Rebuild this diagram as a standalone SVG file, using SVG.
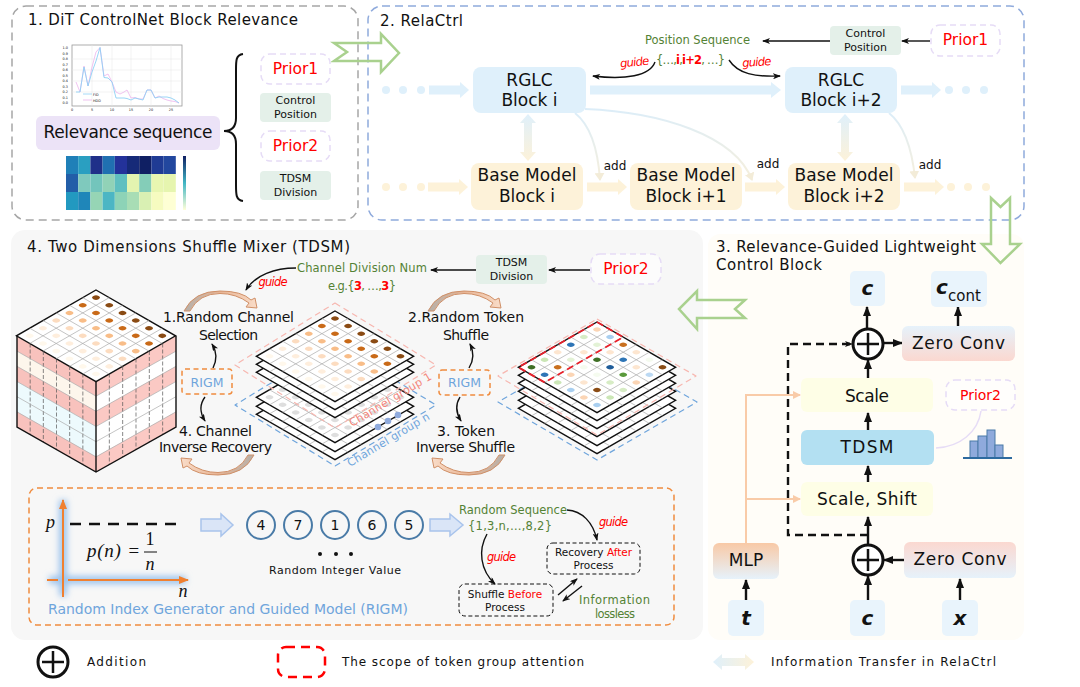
<svg xmlns="http://www.w3.org/2000/svg" width="1080" height="687" viewBox="0 0 1080 687">
<style>
text{font-family:"DejaVu Sans","Liberation Sans",sans-serif;fill:#111}
.h{font-size:15px}
.b{font-size:17px;text-anchor:middle}
.s{font-size:11px;text-anchor:middle}
.m{font-size:12px;text-anchor:middle}
.p{font-size:15.5px;fill:#f00;text-anchor:middle}
.g{font-size:11.5px;fill:#548235;text-anchor:middle}
.r{fill:#f00}
.gd{font-size:11.5px;fill:#f00;font-style:italic;text-anchor:middle}
.op{font-size:14px;text-anchor:middle}
.cv{font-weight:bold;font-style:italic;font-size:20px;text-anchor:middle}
.prior{fill:#fff;fill-opacity:.6;stroke:#e6dcf6;stroke-width:1.5;stroke-dasharray:6 4}
.tag{fill:#e4f0e9}
.blue{fill:#dff0fb}
.tan{fill:#fdf2d9}
.inp{fill:#e9f4fc}
.ln{fill:none;stroke:#111;stroke-width:1.4}
.thick{fill:none;stroke:#111;stroke-width:2.4}
.hollow{fill:none;stroke:#a9d18e;stroke-width:2.5}
.hb{fill:#dae5f7;stroke:#a9c4ec;stroke-width:1.5}
.rigm{fill:none;stroke:#f08c3f;stroke-width:1.5;stroke-dasharray:5 3.5}
.pb{fill:none;stroke:#111;stroke-width:1;stroke-dasharray:4 2.5}
.num{fill:none;stroke:#4a7ba7;stroke-width:2}
.grid{stroke:#aaa;stroke-width:.7;fill:none;vector-effect:non-scaling-stroke}
.out{stroke:#111;stroke-width:1.4;fill:#fff;vector-effect:non-scaling-stroke}
.peach{fill:none;stroke:#f9cba8;stroke-width:2}
.flow{fill:none;stroke-width:2;stroke:url(#fade)}
</style>
<defs>
<linearGradient id="vg" x1="0" y1="0" x2="0" y2="1"><stop offset="0" stop-color="#dff0fb"/><stop offset="1" stop-color="#fdf2d9"/></linearGradient>
<linearGradient id="hg" x1="0" y1="0" x2="1" y2="0"><stop offset="0" stop-color="#dff0fb"/><stop offset="1" stop-color="#fdf2d9"/></linearGradient>
<linearGradient id="fade" x1="0" y1="0" x2="0" y2="1"><stop offset="0" stop-color="#dcedf8"/><stop offset="1" stop-color="#f6efdc"/></linearGradient>
<linearGradient id="bluePink" x1="0" y1="0" x2="0" y2="1"><stop offset="0" stop-color="#e6f2fb"/><stop offset="1" stop-color="#fbd8d0"/></linearGradient>
<linearGradient id="pinkBlue" x1="0" y1="0" x2="0" y2="1"><stop offset="0" stop-color="#fbd8d0"/><stop offset="1" stop-color="#e6f2fb"/></linearGradient>
<linearGradient id="orBlue" x1="0" y1="0" x2="0" y2="1"><stop offset="0" stop-color="#f8c9a6"/><stop offset="1" stop-color="#e6f2fb"/></linearGradient>
<linearGradient id="arcG" x1="0" y1="0" x2="1" y2="0"><stop offset="0" stop-color="#b5b0aa"/><stop offset=".5" stop-color="#e8b595"/><stop offset="1" stop-color="#f9dcc8"/></linearGradient>
<linearGradient id="bar" x1="0" y1="0" x2="0" y2="1"><stop offset="0" stop-color="#0f1f63"/><stop offset=".5" stop-color="#41b6c4"/><stop offset="1" stop-color="#ffffd9"/></linearGradient>
<filter id="glow" x="-30%" y="-30%" width="160%" height="160%"><feGaussianBlur stdDeviation="3"/></filter>
<marker id="a" markerUnits="userSpaceOnUse" markerWidth="8" markerHeight="6" refX="7" refY="3" orient="auto"><path d="M0,0L8,3L0,6L2,3Z" fill="#111"/></marker>
<marker id="aL" markerUnits="userSpaceOnUse" markerWidth="10" markerHeight="10" refX="9" refY="5" orient="auto"><path d="M0,1L10,5L0,9Z" fill="#111"/></marker>
<marker id="aF" markerUnits="userSpaceOnUse" markerWidth="8" markerHeight="10" refX="7" refY="5" orient="auto"><path d="M0,0L8,5L0,10Z" fill="#f3ecd8"/></marker>
<marker id="aP" markerUnits="userSpaceOnUse" markerWidth="8" markerHeight="8" refX="7" refY="4" orient="auto"><path d="M0,0L8,4L0,8Z" fill="#f9cba8"/></marker>
<marker id="aO" markerUnits="userSpaceOnUse" markerWidth="10" markerHeight="8" refX="9" refY="4" orient="auto"><path d="M0,0L10,4L0,8Z" fill="#f08030"/></marker>
<polygon id="fat" points="0,-4.5 31,-4.5 31,-8 40,0 31,8 31,4.5 0,4.5"/>
<polygon id="dbl" points="0,0 8,9 4,9 4,38 8,38 0,47 -8,38 -4,38 -4,9 -8,9"/>
<path id="arc" d="M0,0Q10,-20 36,-20Q58,-20 67,-11L71,-13L73,-3L62,-4L65,-8Q52,-17.500 36,-17.500Q15,-17.500 6,0Z" fill="url(#arcG)" stroke="#d09068" stroke-width="1"/>
<g id="dots3"><circle cx="5" cy="5" r="2"/><circle cx="15" cy="5" r="2"/><circle cx="25" cy="5" r="2"/><circle cx="35" cy="5" r="2"/><circle cx="45" cy="5" r="2"/><circle cx="55" cy="5" r="2"/></g>
<g id="gridLines">
<path class="grid" d="M10,0V60M20,0V60M30,0V60M40,0V60M50,0V60M0,10H60M0,20H60M0,30H60M0,40H60M0,50H60"/>
</g>
<g id="layer" transform="matrix(1.31,.755,-1.31,.755,0,0)"><rect class="out" width="60" height="60"/><use href="#gridLines"/></g>
<g id="warm" transform="matrix(1.31,.755,-1.31,.755,0,0)">
<use href="#dots3" fill="#8a4b14"/><use href="#dots3" y="10" fill="#c96a18"/><use href="#dots3" y="20" fill="#f8bd88"/><use href="#dots3" y="30" fill="#fcdcc0"/><use href="#dots3" y="40" fill="#feeedd"/><use href="#dots3" y="50" fill="#fff8ec"/>
</g>
<g id="greyDots" transform="matrix(1.31,.755,-1.31,.755,0,0)" fill="#dedede">
<use href="#dots3"/><use href="#dots3" y="10"/><use href="#dots3" y="20"/><use href="#dots3" y="30"/><use href="#dots3" y="40"/><use href="#dots3" y="50"/>
</g>
</defs>

<g id="panel-bg">
<rect x="11" y="230" width="692" height="410" rx="14" fill="#f7f7f7"/>
<rect x="708" y="234" width="316" height="406" rx="12" fill="#fffdf8"/>
<rect x="12" y="6" width="346" height="214" rx="14" fill="#fff" stroke="#a6a6a6" stroke-width="1.5" stroke-dasharray="8 5"/>
<rect x="368" y="6" width="656" height="214" rx="14" fill="#fff" stroke="#8faadc" stroke-width="1.5" stroke-dasharray="8 5"/>
</g>

<g id="flow-arrows">
<path class="hollow" d="M334,43H381V34L399,53L381,72V61H334L347,52Z"/>
<path class="hollow" d="M991,198L1000.5,207L1010,198V244H1020L1000.5,263L982,244H991Z"/>
<path class="hollow" d="M745,300L735,309L745,318H697V329L679,309L697,291V300Z"/>
</g>

<g id="panel-1">
<text class="h" x="28" y="25" textLength="270">1. DiT ControlNet Block Relevance</text>
<g id="chart">
<rect x="72" y="45" width="110" height="61" fill="#fff" stroke="#999" stroke-width=".8"/>
<path d="M92,45V106M112,45V106M131,45V106M151,45V106M171,45V106M72,92H182M72,81H182M72,70H182M72,59H182" stroke="#e6e6e6" stroke-width=".5" fill="none"/>
<polyline fill="none" stroke="#ecb4ec" stroke-width=".8" points="76,82 80,92 84,66 88,86 92,67 96,52 100,47.5 104,76 108,74 112,82 116,92 120,94 124,92 127,90 131,98 135,97.5 139,99 143,99 147,90 151,90 155,98 159,96 163,98.5 167,100 171,101 175,101.5 179,103"/>
<polyline fill="none" stroke="#8fd0f5" stroke-width=".9" points="76,92 80,92 84,67 88,86 92,72 96,61 100,47.5 104,77.5 108,78 112,82 116,98 120,98 124,98 127,98.5 131,100 135,98 139,99 143,100 147,90 151,90 155,98 159,97 163,97 167,97 171,98 175,100 179,103"/>
<path d="M83,94H92" stroke="#8fd0f5" stroke-width=".8"/><path d="M83,100H92" stroke="#ecb4ec" stroke-width=".8"/>
<g font-size="3.4" text-anchor="end">
<text x="68" y="49">1.0</text><text x="68" y="54.500">0.9</text><text x="68" y="60">0.8</text><text x="68" y="65.500">0.7</text><text x="68" y="71">0.6</text><text x="68" y="76.500">0.5</text><text x="68" y="82">0.4</text><text x="68" y="87.500">0.3</text><text x="68" y="93">0.2</text><text x="68" y="98.500">0.1</text><text x="68" y="104">0.0</text>
</g>
<g font-size="3.4" text-anchor="middle">
<text x="72" y="111">0</text><text x="92" y="111">5</text><text x="112" y="111">10</text><text x="131" y="111">15</text><text x="151" y="111">20</text><text x="171" y="111">25</text>
</g>
<text x="93" y="96" font-size="3.4">FID</text><text x="93" y="102" font-size="3.4">HDD</text>
</g>
<g id="relevance"><rect x="36" y="116" width="184" height="34" rx="6" fill="#ece3f7"/><text x="128" y="138" font-size="17" text-anchor="middle" textLength="169">Relevance sequence</text></g>
<g id="heatmap">
<rect x="66" y="156" width="12.200" height="18" fill="#1f80b8"/><rect x="78.200" y="156" width="12.200" height="18" fill="#2a9fc1"/><rect x="90.400" y="156" width="12.200" height="18" fill="#1f3089"/><rect x="102.600" y="156" width="12.200" height="18" fill="#2070b1"/><rect x="114.800" y="156" width="12.200" height="18" fill="#23329a"/><rect x="127" y="156" width="12.200" height="18" fill="#162a78"/><rect x="139.200" y="156" width="12.200" height="18" fill="#0f1f63"/><rect x="151.400" y="156" width="12.200" height="18" fill="#1f3b94"/><rect x="163.600" y="156" width="12.200" height="18" fill="#22479e"/>
<rect x="66" y="174" width="12.200" height="18" fill="#225ea8"/><rect x="78.200" y="174" width="12.200" height="18" fill="#7fc9bd"/><rect x="90.400" y="174" width="12.200" height="18" fill="#73c5bc"/><rect x="102.600" y="174" width="12.200" height="18" fill="#91d2b7"/><rect x="114.800" y="174" width="12.200" height="18" fill="#5fbfc0"/><rect x="127" y="174" width="12.200" height="18" fill="#e3f4b0"/><rect x="139.200" y="174" width="12.200" height="18" fill="#84cdb8"/><rect x="151.400" y="174" width="12.200" height="18" fill="#e8f6b1"/><rect x="163.600" y="174" width="12.200" height="18" fill="#e6f5af"/>
<rect x="66" y="192" width="12.200" height="18" fill="#2299c0"/><rect x="78.200" y="192" width="12.200" height="18" fill="#1f86b9"/><rect x="90.400" y="192" width="12.200" height="18" fill="#96d5b5"/><rect x="102.600" y="192" width="12.200" height="18" fill="#4cb6c4"/><rect x="114.800" y="192" width="12.200" height="18" fill="#8dd3b7"/><rect x="127" y="192" width="12.200" height="18" fill="#a8ddb5"/><rect x="139.200" y="192" width="12.200" height="18" fill="#d9f0b3"/><rect x="151.400" y="192" width="12.200" height="18" fill="#f6fbc0"/><rect x="163.600" y="192" width="12.200" height="18" fill="#feffd4"/>
<rect x="183" y="156" width="3" height="54" fill="url(#bar)"/>
</g>
<path id="brace" d="M243,54C236,55 236,60 236,70V118C236,127 232,131 224,131C232,131 236,135 236,144V185C236,195 236,200 243,201" fill="none" stroke="#111" stroke-width="2"/>
<g id="prior1-a"><rect class="prior" x="261" y="54" width="69" height="30" rx="9"/><text class="p" x="295.500" y="74">Prior1</text></g>
<g id="control-a"><rect class="tag" x="260" y="93" width="71" height="29" rx="4"/><text class="s" x="295.500" y="104">Control</text><text class="s" x="295.500" y="118">Position</text></g>
<g id="prior2-a"><rect class="prior" x="261" y="131" width="69" height="30" rx="9"/><text class="p" x="295.500" y="151">Prior2</text></g>
<g id="tdsm-div-a"><rect class="tag" x="260" y="171" width="71" height="29" rx="4"/><text class="s" x="295.500" y="182">TDSM</text><text class="s" x="295.500" y="196">Division</text></g>
</g>

<g id="connectors">
<g fill="#dff0fb">
<circle cx="386" cy="90" r="4"/><circle cx="403" cy="90" r="4"/><circle cx="421" cy="90" r="4"/>
<use href="#fat" transform="translate(429,90)"/>
<polygon points="590,85.500 771,85.500 771,82 781,90 771,98 771,94.500 590,94.500"/>
<use href="#fat" transform="translate(901,90)"/>
<circle cx="949" cy="90" r="4"/><circle cx="966" cy="90" r="4"/><circle cx="984" cy="90" r="4"/>
</g>
<g fill="#fdf2d9">
<circle cx="386" cy="187" r="4"/><circle cx="403" cy="187" r="4"/><circle cx="421" cy="187" r="4"/>
<use href="#fat" transform="translate(428,187)"/><use href="#fat" transform="translate(587,187)"/><use href="#fat" transform="translate(745,187)"/><use href="#fat" transform="translate(904,187)"/>
<circle cx="951" cy="187" r="4"/><circle cx="968" cy="187" r="4"/><circle cx="986" cy="187" r="4"/>
</g>
<use href="#dbl" transform="translate(528,114)" fill="url(#vg)"/>
<use href="#dbl" transform="translate(845,114)" fill="url(#vg)"/>
<path class="flow" d="M575,113C590,125 598,150 600,180" marker-end="url(#aF)"/>
<path class="flow" d="M585,109C660,112 735,135 752,180" marker-end="url(#aF)"/>
<path class="flow" d="M889,113C904,125 912,150 915,178" marker-end="url(#aF)"/>
<path class="ln" d="M655,62C650,76 625,80 593,76" marker-end="url(#a)"/>
<path class="ln" d="M729,60C738,74 755,77 780,76" marker-end="url(#a)"/>
<path class="ln" d="M830,41H763" marker-end="url(#a)"/>
<path class="ln" d="M930,41H902" marker-end="url(#a)"/>
<path class="ln" d="M590,270H549" marker-end="url(#a)"/>
<path class="ln" d="M476,270H431" marker-end="url(#a)"/>
<path class="ln" d="M296,268C275,268 255,275 246,290" marker-end="url(#a)"/>
<path class="ln" d="M213,368C217,360 217,352 212,344" marker-end="url(#a)"/>
<path class="ln" d="M205,397C199,405 200,413 205,421" marker-end="url(#a)"/>
<path class="ln" d="M469,368C474,360 474,352 470,344" marker-end="url(#a)"/>
<path class="ln" d="M460,397C455,405 456,413 461,421" marker-end="url(#a)"/>
<path class="ln" d="M567,510C582,511 593,522 597,540" marker-end="url(#a)"/>
<path class="ln" d="M487,534C478,550 480,570 495,584" marker-end="url(#a)"/>
<path class="ln" d="M558,595L577,579" marker-end="url(#a)"/>
<path class="ln" d="M582,586L563,601" marker-end="url(#a)"/>
<path class="peach" d="M746,543V395H800" marker-end="url(#aP)"/>
<path class="peach" d="M746,499H800" marker-end="url(#aP)"/>
<path d="M868,535H788V344H852" fill="none" stroke="#111" stroke-width="2.400" stroke-dasharray="8 5" marker-end="url(#a)"/>
<path class="thick" d="M867,329V307" marker-end="url(#aL)"/>
<path class="thick" d="M958,326V307" marker-end="url(#aL)"/>
<path class="thick" d="M884,343H902" marker-end="url(#aL)"/>
<path class="thick" d="M868,378V360" marker-end="url(#aL)"/>
<path class="thick" d="M868,430V413" marker-end="url(#aL)"/>
<path class="thick" d="M868,482V466" marker-end="url(#aL)"/>
<path class="thick" d="M868,544V517" marker-end="url(#aL)"/>
<path class="thick" d="M868,600V576" marker-end="url(#aL)"/>
<path class="thick" d="M904,560H884" marker-end="url(#aL)"/>
<path class="thick" d="M746,600V580" marker-end="url(#aL)"/>
<path class="thick" d="M960,600V579" marker-end="url(#aL)"/>
<path d="M981,411C978,432 960,447 936,448" fill="none" stroke="#e6dcf6" stroke-width="1.5"/>
</g>

<g id="panel-2">
<text class="h" x="380" y="26" textLength="83">2. RelaCtrl</text>
<g id="rglc-i"><rect class="blue" x="473" y="67" width="113" height="46" rx="8"/><text class="b" x="529.500" y="86">RGLC</text><text class="b" x="529.500" y="106">Block i</text></g>
<g id="rglc-i2"><rect class="blue" x="785" y="67" width="112" height="46" rx="8"/><text class="b" x="841" y="86">RGLC</text><text class="b" x="841" y="106">Block i+2</text></g>
<g id="base-i"><rect class="tan" x="471" y="163" width="112" height="47" rx="8"/><text class="b" x="527" y="181" textLength="99">Base Model</text><text class="b" x="527" y="202">Block i</text></g>
<g id="base-i1"><rect class="tan" x="630" y="163" width="112" height="47" rx="8"/><text class="b" x="686" y="181" textLength="99">Base Model</text><text class="b" x="686" y="202">Block i+1</text></g>
<g id="base-i2"><rect class="tan" x="788" y="163" width="112" height="47" rx="8"/><text class="b" x="844" y="181" textLength="99">Base Model</text><text class="b" x="844" y="202">Block i+2</text></g>
<text class="m" x="615" y="170">add</text><text class="m" x="768" y="168">add</text><text class="m" x="930" y="169">add</text>
<text class="g" x="697.500" y="44" textLength="105">Position Sequence</text>
<text class="g" x="690.500" y="64" textLength="69">{…,<tspan style="fill:#f00;font-weight:bold">i</tspan>,<tspan style="fill:#f00;font-weight:bold">i+2</tspan>, …}</text>
<text class="gd" x="635" y="66" transform="rotate(-6 635 66)" textLength="29">guide</text>
<text class="gd" x="757" y="66" transform="rotate(-4 757 66)" textLength="29">guide</text>
<g id="control-b"><rect class="tag" x="830" y="26" width="71" height="29" rx="4"/><text class="s" x="865.500" y="37">Control</text><text class="s" x="865.500" y="51">Position</text></g>
<g id="prior1-b"><rect class="prior" x="931" y="25" width="69" height="31" rx="9"/><text class="p" x="965.500" y="45">Prior1</text></g>
</g>

<g id="panel-4">
<text class="h" x="27" y="252" textLength="323">4. Two Dimensions Shuffle Mixer (TDSM)</text>
<text class="g" x="362" y="272" textLength="130">Channel Division Num</text>
<text class="g" x="362" y="290" textLength="68">e.g.{<tspan class="r" font-weight="bold">3</tspan>, …,<tspan class="r" font-weight="bold">3</tspan>}</text>
<text class="gd" x="273" y="286" textLength="29">guide</text>
<g id="tdsm-div-b"><rect class="tag" x="476" y="255" width="71" height="29" rx="4"/><text class="s" x="511.500" y="266">TDSM</text><text class="s" x="511.500" y="280">Division</text></g>
<g id="prior2-b"><rect class="prior" x="591" y="254" width="70" height="30" rx="9"/><text class="p" x="626" y="274">Prior2</text></g>

<g id="cube">
<g transform="matrix(1.317,.75,0,1.517,17,336)">
<rect width="60" height="10" y="0" fill="#f8c2bd"/><rect width="60" height="10" y="10" fill="#fdf6ec"/><rect width="60" height="10" y="20" fill="#f8c2bd"/><rect width="60" height="20" y="30" fill="#edfafd"/><rect width="60" height="10" y="50" fill="#f8c2bd"/>
<path class="grid" stroke-dasharray="4 2" d="M10,0V60M20,0V60M30,0V60M40,0V60M50,0V60" style="stroke:#555"/>
<path class="grid" d="M0,10H60M0,20H60M0,30H60M0,40H60M0,50H60"/>
</g>
<g transform="matrix(1.333,-.75,0,1.517,96,381)">
<rect width="60" height="10" y="0" fill="#fbc9c4"/><rect width="60" height="10" y="10" fill="#fff"/><rect width="60" height="10" y="20" fill="#fbc9c4"/><rect width="60" height="20" y="30" fill="#fff"/><rect width="60" height="10" y="50" fill="#fbc9c4"/>
<path class="grid" stroke-dasharray="4 2" d="M10,0V60M20,0V60M30,0V60M40,0V60M50,0V60" style="stroke:#555"/>
<path class="grid" d="M0,10H60M0,20H60M0,30H60M0,40H60M0,50H60"/>
</g>
<path d="M17,336V427L96,472L176,427V336M96,381V472" fill="none" stroke="#111" stroke-width="1.4"/>
<g transform="translate(96,290) scale(1.012,1.012)"><use href="#layer"/><use href="#warm"/></g>
</g>

<g id="stack-1">
<path d="M335,344L436,405L335,466L235,405Z" fill="none" stroke="#6fa5dc" stroke-width="1.2" stroke-dasharray="6 4" stroke-linejoin="round"/>
<use href="#layer" x="335" y="369"/><use href="#layer" x="335" y="361"/><use href="#layer" x="335" y="352"/><use href="#greyDots" x="335" y="352"/>
<path d="M335,303L436,365L335,428L235,365Z" fill="none" stroke="#f7b7b0" stroke-width="1.2" stroke-dasharray="6 4" stroke-linejoin="round"/>
<use href="#layer" x="335" y="327"/><use href="#layer" x="335" y="319"/><use href="#layer" x="335" y="311"/><use href="#warm" x="335" y="311"/>
<circle cx="378" cy="427" r="3.300" fill="#8faadc"/><circle cx="388" cy="421" r="3.300" fill="#8faadc"/><circle cx="398" cy="415" r="3.300" fill="#8faadc"/>
<text x="352" y="427" font-size="11" style="fill:#f4857a" transform="rotate(-31 352 427)" textLength="94">Channel group 1</text>
<text x="350" y="467" font-size="11" style="fill:#6fa5dc" transform="rotate(-31 350 467)" textLength="94">Channel group n</text>
</g>

<g id="stack-2">
<path d="M597,345L697,402L597,460L498,402Z" fill="none" stroke="#6fa5dc" stroke-width="1.2" stroke-dasharray="6 4" stroke-linejoin="round"/>
<use href="#layer" x="597" y="363"/><use href="#layer" x="597" y="355"/><use href="#layer" x="597" y="346"/>
<path d="M597,319L696,376L597,435L498,376Z" fill="none" stroke="#f7b7b0" stroke-width="1.2" stroke-dasharray="6 4" stroke-linejoin="round"/>
<use href="#layer" x="597" y="338"/><use href="#layer" x="597" y="330"/><use href="#layer" x="597" y="322"/>
<g transform="translate(597,322) matrix(1.31,.755,-1.31,.755,0,0)">
<circle cx="5" cy="5" r="2" fill="#fbd5b5"/><circle cx="15" cy="5" r="2" fill="#a9cff0"/><circle cx="25" cy="5" r="2" fill="#c9701f"/><circle cx="35" cy="5" r="2" fill="#fde6d0"/><circle cx="45" cy="5" r="2" fill="#f5fbef"/><circle cx="55" cy="5" r="2" fill="#8a4b14"/>
<circle cx="5" cy="15" r="2" fill="#d7ecc5"/><circle cx="15" cy="15" r="2" fill="#e3f2d6"/><circle cx="25" cy="15" r="2" fill="#fde6d0"/><circle cx="35" cy="15" r="2" fill="#2e75b6"/><circle cx="45" cy="15" r="2" fill="#fde6d0"/><circle cx="55" cy="15" r="2" fill="#bcd9f3"/>
<circle cx="5" cy="25" r="2" fill="#2e75b6"/><circle cx="15" cy="25" r="2" fill="#fde6d0"/><circle cx="25" cy="25" r="2" fill="#3f6f25"/><circle cx="35" cy="25" r="2" fill="#1f5c99"/><circle cx="45" cy="25" r="2" fill="#5a9a3c"/><circle cx="55" cy="25" r="2" fill="#fbd5b5"/>
<circle cx="5" cy="35" r="2" fill="#fde6d0"/><circle cx="15" cy="35" r="2" fill="#e3f2d6"/><circle cx="25" cy="35" r="2" fill="#f5fbef"/><circle cx="35" cy="35" r="2" fill="#f5fbef"/><circle cx="45" cy="35" r="2" fill="#d7ecc5"/><circle cx="55" cy="35" r="2" fill="#d7ecc5"/>
<circle cx="5" cy="45" r="2" fill="#cbe6b6"/><circle cx="15" cy="45" r="2" fill="#c9701f"/><circle cx="25" cy="45" r="2" fill="#fbd5b5"/><circle cx="35" cy="45" r="2" fill="#fde6d0"/><circle cx="45" cy="45" r="2" fill="#8a4b14"/><circle cx="55" cy="45" r="2" fill="#cbe6b6"/>
<circle cx="5" cy="55" r="2" fill="#3f6f25"/><circle cx="15" cy="55" r="2" fill="#2e75b6"/><circle cx="25" cy="55" r="2" fill="#cbe6b6"/><circle cx="35" cy="55" r="2" fill="#a9cff0"/><circle cx="45" cy="55" r="2" fill="#fbd5b5"/><circle cx="55" cy="55" r="2" fill="#a9cff0"/>
<path d="M0,0H20V60H0Z" fill="none" stroke="#e8202a" stroke-width="1.800" stroke-dasharray="7 4" vector-effect="non-scaling-stroke"/>
</g>
</g>

<use href="#arc" transform="translate(184,311)"/>
<use href="#arc" transform="translate(254,455) scale(-1,-1)"/>
<use href="#arc" transform="translate(428,311)"/>
<use href="#arc" transform="translate(505,455) scale(-1,-1)"/>
<text class="op" x="228.500" y="322" textLength="131">1.Random Channel</text>
<text class="op" x="228.500" y="340" textLength="59">Selection</text>
<text class="op" x="215.500" y="436" textLength="73">4. Channel</text>
<text class="op" x="215.500" y="452" textLength="113">Inverse Recovery</text>
<text class="op" x="466" y="322" textLength="116">2.Random Token</text>
<text class="op" x="466" y="340" textLength="46">Shuffle</text>
<text class="op" x="466" y="436" textLength="58">3. Token</text>
<text class="op" x="465.500" y="452" textLength="99">Inverse Shuffle</text>
<g id="rigm-a"><rect class="rigm" x="182" y="369" width="50" height="25" rx="3"/><text x="207" y="387" font-size="12.500" text-anchor="middle" style="fill:#6fa5dc">RIGM</text></g>
<g id="rigm-b"><rect class="rigm" x="439" y="370" width="51" height="25" rx="3"/><text x="464.500" y="387" font-size="12.500" text-anchor="middle" style="fill:#6fa5dc">RIGM</text></g>

<g id="rigm-panel">
<rect x="29" y="488" width="645" height="137" rx="8" fill="none" stroke="#f08c3f" stroke-width="1.500" stroke-dasharray="6 4"/>
<path d="M63,500V596M49,580H186" fill="none" stroke="#9cc3ec" stroke-width="8" filter="url(#glow)"/>
<path d="M70,524H180" fill="none" stroke="#cde8c8" stroke-width="6" filter="url(#glow)"/>
<path d="M63,597V500" fill="none" stroke="#f08030" stroke-width="2" marker-end="url(#aO)"/>
<path d="M47,580H58M68,580H188" fill="none" stroke="#f08030" stroke-width="2" marker-end="url(#aO)"/>
<path d="M70,524H180" fill="none" stroke="#111" stroke-width="2.500" stroke-dasharray="11 8"/>
<text x="46" y="528" font-size="18" style="font-family:'Liberation Serif',serif;font-style:italic">p</text>
<text x="87" y="557" font-size="19" style="font-family:'Liberation Serif',serif;font-style:italic" textLength="53">p(n) =</text>
<text x="150" y="545" font-size="18" style="font-family:'Liberation Serif',serif" text-anchor="middle">1</text>
<text x="150" y="570" font-size="18" style="font-family:'Liberation Serif',serif;font-style:italic" text-anchor="middle">n</text>
<text x="183" y="597" font-size="18" style="font-family:'Liberation Serif',serif;font-style:italic" text-anchor="middle">n</text>
<path d="M144,552H157" stroke="#111" stroke-width="1"/>
<text x="48" y="614" font-size="14" style="fill:#6fa5dc" textLength="360">Random Index Generator and Guided Model (RIGM)</text>
<path class="hb" d="M201,519H221V514L233,525L221,536V531H201Z"/>
<path class="hb" d="M430,519H450V514L463,525L450,536V531H430Z"/>
<g id="num-4"><circle class="num" cx="261" cy="525" r="14"/><text class="op" x="261" y="530">4</text></g>
<g id="num-7"><circle class="num" cx="298" cy="525" r="14"/><text class="op" x="298" y="530">7</text></g>
<g id="num-1"><circle class="num" cx="335" cy="525" r="14"/><text class="op" x="335" y="530">1</text></g>
<g id="num-6"><circle class="num" cx="372" cy="525" r="14"/><text class="op" x="372" y="530">6</text></g>
<g id="num-5"><circle class="num" cx="409" cy="525" r="14"/><text class="op" x="409" y="530">5</text></g>
<circle cx="320" cy="554" r="2" fill="#111"/><circle cx="336" cy="554" r="2" fill="#111"/><circle cx="351" cy="554" r="2" fill="#111"/>
<text class="s" x="335" y="574" textLength="132">Random Integer Value</text>
<text class="g" x="513" y="514" textLength="108">Random Sequence</text>
<text class="g" x="510" y="530" textLength="84">{1,3,n,…,8,2}</text>
<text class="gd" x="613.500" y="526" textLength="29">guide</text>
<text class="gd" x="501.500" y="561" textLength="29">guide</text>
<g id="recovery"><rect class="pb" x="547" y="543" width="93" height="31" rx="6"/><text x="593.500" y="556" font-size="10.500" text-anchor="middle">Recovery <tspan class="r">After</tspan></text><text x="593.500" y="569" font-size="10.500" text-anchor="middle">Process</text></g>
<g id="shuffle"><rect class="pb" x="459" y="584" width="94" height="32" rx="6"/><text x="505" y="598" font-size="10.500" text-anchor="middle">Shuffle <tspan class="r">Before</tspan></text><text x="505" y="611" font-size="10.500" text-anchor="middle">Process</text></g>
<text class="g" x="614.500" y="604" textLength="71">Information</text>
<text class="g" x="615" y="618" textLength="40">lossless</text>
</g>
</g>

<g id="panel-3">
<text class="h" x="716" y="252" font-size="14" textLength="260">3. Relevance-Guided Lightweight</text>
<text class="h" x="716" y="270" textLength="106">Control Block</text>
<g id="c-out"><rect class="inp" x="850" y="271" width="35" height="35" rx="5"/><text class="cv" x="867.500" y="295">c</text></g>
<g id="c-cont"><rect class="inp" x="931" y="271" width="56" height="36" rx="5"/><text class="cv" x="942" y="294">c</text><text x="948" y="301" font-size="15">cont</text></g>
<g id="zero-top"><rect x="902" y="326" width="113" height="35" rx="6" fill="url(#bluePink)"/><text class="b" x="958.500" y="349" textLength="93">Zero Conv</text></g>
<g id="add-top"><circle cx="868" cy="344" r="15" fill="#fff" stroke="#111" stroke-width="3"/><path d="M857,344H879M868,333V355" stroke="#111" stroke-width="2.500"/></g>
<g id="scale"><rect x="801" y="378" width="132" height="34" rx="6" fill="#fefee6"/><text class="b" x="867" y="402" textLength="44">Scale</text></g>
<g id="tdsm"><rect x="801" y="430" width="133" height="35" rx="6" fill="#b3e0f2"/><text class="b" x="867" y="453" textLength="53">TDSM</text></g>
<g id="scale-shift"><rect x="801" y="482" width="132" height="34" rx="6" fill="#fefee6"/><text class="b" x="867" y="505" textLength="100">Scale, Shift</text></g>
<g id="prior2-c"><rect class="prior" x="946" y="380" width="69" height="30" rx="9"/><text class="p" x="980.500" y="400" style="font-size:14px">Prior2</text></g>
<g id="histogram" fill="#8faadc" stroke="#4a7ba7" stroke-width="1"><rect x="970" y="441" width="8" height="17"/><rect x="978" y="436" width="9" height="22"/><rect x="987" y="430" width="8" height="28"/><rect x="995" y="445" width="8" height="13"/><path d="M963,458H1012" stroke-width="1.800" stroke="#2d6a9f"/></g>
<g id="add-bottom"><circle cx="868" cy="560" r="15" fill="#fff" stroke="#111" stroke-width="3"/><path d="M857,560H879M868,549V571" stroke="#111" stroke-width="2.500"/></g>
<g id="zero-bottom"><rect x="904" y="542" width="112" height="36" rx="6" fill="url(#pinkBlue)"/><text class="b" x="960" y="565" textLength="93">Zero Conv</text></g>
<g id="mlp"><rect x="713" y="543" width="66" height="36" rx="6" fill="url(#orBlue)"/><text class="b" x="746" y="566">MLP</text></g>
<g id="t-in"><rect class="inp" x="728" y="600" width="36" height="36" rx="5"/><text class="cv" x="746" y="625">t</text></g>
<g id="c-in"><rect class="inp" x="850" y="600" width="35" height="36" rx="5"/><text class="cv" x="867.500" y="625">c</text></g>
<g id="x-in"><rect class="inp" x="942" y="600" width="36" height="36" rx="5"/><text class="cv" x="960" y="625">x</text></g>
</g>

<g id="legend">
<circle cx="53" cy="662" r="15" fill="none" stroke="#111" stroke-width="3"/><path d="M42,662H64M53,651V673" stroke="#111" stroke-width="2.500"/>
<text x="87" y="666" font-size="12" textLength="59">Addition</text>
<rect x="278" y="647" width="47" height="30" rx="8" fill="none" stroke="#f00" stroke-width="2.500" stroke-dasharray="9 6"/>
<text x="342" y="666" font-size="12" textLength="242">The scope of token group attention</text>
<polygon points="713,662 722,654 722,658 745,658 745,654 754,662 745,670 745,666 722,666 722,670" fill="url(#hg)"/>
<text x="771" y="666" font-size="12" textLength="225">Information Transfer in RelaCtrl</text>
</g>
</svg>
